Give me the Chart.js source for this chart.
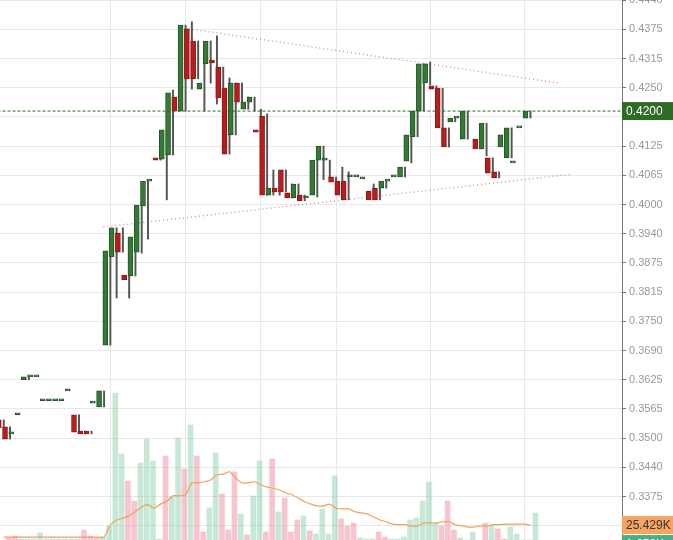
<!DOCTYPE html>
<html><head><meta charset="utf-8">
<script src="https://cdn.jsdelivr.net/npm/chart.js@4/dist/chart.umd.min.js"></script>
<style>html,body{margin:0;padding:0;background:#fff;overflow:hidden}canvas{display:block}</style>
</head><body><canvas id="c" width="673" height="540"></canvas>
<script>
const opens  = [.3539,.3524,.3509,.3550,.3625,.3631,.3631,.3580,.3580,.3580,.3580,.3601,.3550,.3515,.3515,.3575,.3567,.3699,.3888,.3939,.3849,.3847,.3898,.3997,.4050,.4100,.4097,.4106,.4230,.4200,.4376,.4350,.4247,.4301,.4309,.4294,.4249,.4149,.4260,.4204,.4219,.4160,.4189,.4020,.4035,.4074,.4025,.4014,.4020,.4014,.4020,.4095,.4095,.4059,.4050,.4050,.4059,.4059,.4055,.4029,.4035,.4035,.4050,.4059,.4059,.4093,.4145,.4200,.4260,.4254,.4249,.4164,.4177,.4185,.4140,null,.4140,.4119,.4100,.4070,.4123,.4100,.4089,.4164,.4185];
const highs  = [.3539,.3524,.3509,.3550,.3631,.3631,.3631,.3580,.3580,.3580,.3580,.3601,.3550,.3515,.3515,.3575,.3601,.3901,.3950,.3950,.3849,.3982,.3999,.4050,.4050,.4100,.4160,.4245,.4245,.4384,.4391,.4350,.4301,.4350,.4361,.4294,.4271,.4260,.4260,.4230,.4230,.4204,.4194,.4074,.4035,.4074,.4044,.4044,.4020,.4014,.4095,.4125,.4095,.4059,.4080,.4070,.4059,.4059,.4055,.4044,.4035,.4050,.4050,.4059,.4080,.4149,.4200,.4301,.4305,.4254,.4249,.4164,.4185,.4185,.4200,null,.4140,.4174,.4100,.4070,.4149,.4164,.4089,.4164,.4200];
const lows   = [.3522,.3498,.3509,.3550,.3625,.3631,.3631,.3580,.3580,.3580,.3580,.3601,.3513,.3509,.3509,.3575,.3567,.3699,.3800,.3898,.3800,.3847,.3896,.3926,.4050,.4095,.4010,.4106,.4200,.4200,.4247,.4269,.4200,.4260,.4215,.4228,.4108,.4149,.4219,.4204,.4200,.4155,.4020,.4020,.4020,.4027,.4014,.4014,.4008,.4014,.4016,.4053,.4057,.4048,.4020,.4010,.4059,.4059,.4055,.4010,.4010,.4035,.4050,.4059,.4059,.4089,.4145,.4200,.4256,.4247,.4164,.4123,.4177,.4185,.4140,null,.4119,.4104,.4067,.4057,.4123,.4100,.4089,.4164,.4185];
const closes = [.3522,.3498,.3509,.3550,.3631,.3631,.3631,.3580,.3580,.3580,.3580,.3601,.3513,.3509,.3509,.3575,.3601,.3901,.3950,.3898,.3839,.3931,.3999,.4050,.4050,.4095,.4160,.4239,.4200,.4384,.4269,.4269,.4260,.4350,.4303,.4228,.4108,.4260,.4219,.4219,.4230,.4155,.4020,.4035,.4027,.4027,.4014,.4044,.4008,.4014,.4095,.4125,.4095,.4048,.4020,.4010,.4059,.4059,.4055,.4010,.4010,.4050,.4050,.4059,.4080,.4149,.4200,.4301,.4301,.4247,.4164,.4123,.4185,.4185,.4200,null,.4119,.4174,.4067,.4057,.4149,.4164,.4089,.4164,.4200];
const volumesK = [3.4,6.8,1.7,1.7,1.7,11.9,1.7,1.7,1.7,1.7,1.7,1.7,17,6.8,3.4,5.1,23.8,249.9,146.2,100.3,66.3,130.9,171.7,134.3,1.7,142.8,73.1,173.4,120.7,195.5,142.8,13.6,54.4,147.9,78.2,17,115.6,44.2,8.5,74.8,134.3,13.6,137.7,47.6,71.4,13.6,34,40.8,15.3,10.2,52.7,10.2,108.8,35.7,23.8,28.9,3.4,1.7,1.7,13.6,5.1,1.7,1.7,5.1,34,37.4,66.3,98.6,28.9,23.8,66.3,17,3.4,0,13.6,null,28.9,23.8,18.7,1.7,22.1,10.2,0,0,45.9];
const volumeMA = [5,5,5,5,5,5,5,5,5,5,5,5,5,5,5,5,5,25.5,34,37,41,48,56,60,54,61,66,75,75,77,97,97,99,102,111,112,116,105,97,97,99,94,90,88,85,80,77,71,65,61,58,58,61,54,53,53,48,46,44,39,34,31,27,26,26,24,24,29,29,29,31,31,26,24,22,22,24,24,26,26,27,27,27,27,25.4];
const upperTrend = [{x:29.5,y:.4376},{x:88.5,y:.4260}];
const lowerTrend = [{x:15.9,y:.3952},{x:90.7,y:.4065}];
const lastPrice = 0.4200, lastMA = "25.429K", lastVol = "1.658K";
const tickValues = [0.44375,0.4375,0.43125,0.425,0.41875,0.4125,0.40625,0.4,0.39375,0.3875,0.38125,0.375,0.36875,0.3625,0.35625,0.35,0.34375,0.3375,0.33125];
const tickLabels = ["0.4440","0.4375","0.4315","0.4250","0.4190","0.4125","0.4065","0.4000","0.3940","0.3875","0.3815","0.3750","0.3690","0.3625","0.3565","0.3500","0.3440","0.3375",""];
const dayGridIdx = [17,29,41,53,68,83];

const idx = opens.map((_,i)=>i);
const up = idx.map(i=>closes[i]>=opens[i]);
const bodies = idx.filter(i=>opens[i]!==null).map(i=>({x:i,y:[Math.min(opens[i],closes[i]),Math.max(opens[i],closes[i])]}));
const bodyUp = idx.filter(i=>opens[i]!==null).map(i=>up[i]);
const wicks = idx.filter(i=>opens[i]!==null && highs[i]!==lows[i]).map(i=>({x:i,y:[lows[i],highs[i]]}));
const vols = idx.filter(i=>volumesK[i]!==null).map(i=>({x:i,y:volumesK[i]}));
const volUp = idx.filter(i=>volumesK[i]!==null).map(i=>up[i]);
const ma = idx.map(i=>({x:i,y:volumeMA[i]}));

const tags = {id:'tags',afterDraw(ch){
  const c=ch.ctx, y=ch.scales.y, v=ch.scales.v, x0=ch.chartArea.right;
  function tag(yy,txt,bg,fg){c.fillStyle=bg;c.fillRect(x0,yy-9,51,18);c.fillStyle=fg;c.font='12px "Liberation Sans", Arial';c.textBaseline='middle';c.textAlign='left';c.fillText(txt,x0+4,yy+1);}
  tag(y.getPixelForValue(lastPrice),lastPrice.toFixed(4),'#2e6b25','#fff');
  tag(v.getPixelForValue(25.429),lastMA,'#f7a462','#333');
  tag(v.getPixelForValue(25.429)+19,lastVol,'#4bb07f','#fff');
}};

new Chart(document.getElementById('c'),{
  data:{datasets:[
    {type:'line',data:[{x:-1,y:lastPrice},{x:99,y:lastPrice}],borderColor:'#2e6b25',borderWidth:1,borderDash:[3,2],pointRadius:0,yAxisID:'y'},
    {type:'bar',data:bodies,yAxisID:'y',barThickness:5,minBarLength:2,borderWidth:1,borderSkipped:false,
      backgroundColor:bodyUp.map(u=>u?'#337a33':'#b81d1d'),borderColor:bodyUp.map(u=>u?'#24532a':'#8e1616')},
    {type:'bar',data:wicks,yAxisID:'y',barThickness:1.3,backgroundColor:'#555'},
    {type:'line',data:upperTrend,borderColor:'rgba(215,120,110,0.8)',borderWidth:1.5,borderDash:[1,3],pointRadius:0,yAxisID:'y'},
    {type:'line',data:lowerTrend,borderColor:'rgba(215,120,110,0.8)',borderWidth:1.5,borderDash:[1,3],pointRadius:0,yAxisID:'y'},
    {type:'line',data:ma,borderColor:'#f0a060',borderWidth:1.2,pointRadius:0,tension:0.2,yAxisID:'v'},
    {type:'bar',data:vols,yAxisID:'v',barThickness:5,backgroundColor:volUp.map(u=>u?'rgba(130,205,165,0.45)':'rgba(240,150,165,0.55)')}
  ]},
  options:{responsive:false,animation:false,devicePixelRatio:1,
    layout:{padding:0},
    plugins:{legend:{display:false},tooltip:{enabled:false}},
    scales:{
      x:{type:'linear',min:-0.6,max:98.6,offset:false,display:true,
        afterFit(s){s.height=0;s.paddingLeft=0;s.paddingRight=0;},
        afterBuildTicks(s){s.ticks=dayGridIdx.map(v=>({value:v}));},
        grid:{color:'#e8e8e8',drawTicks:false,offset:false},border:{display:false},ticks:{display:false}},
      y:{position:'right',min:0.3282,max:0.44377,
        afterBuildTicks(s){s.ticks=tickValues.map(v=>({value:v}));},
        afterFit(s){s.width=51;s.paddingTop=0;s.paddingBottom=0;},
        ticks:{color:'#999',autoSkip:false,font:{size:11,family:'"Liberation Sans", Arial'},padding:3,
          callback(v,i){return tickLabels[i];}},
        grid:{color:'#e8e8e8',tickLength:4,tickColor:'#777'},border:{color:'#777'}},
      v:{display:false,min:0,max:918}
    }}
  ,plugins:[tags]});
</script></body></html>
